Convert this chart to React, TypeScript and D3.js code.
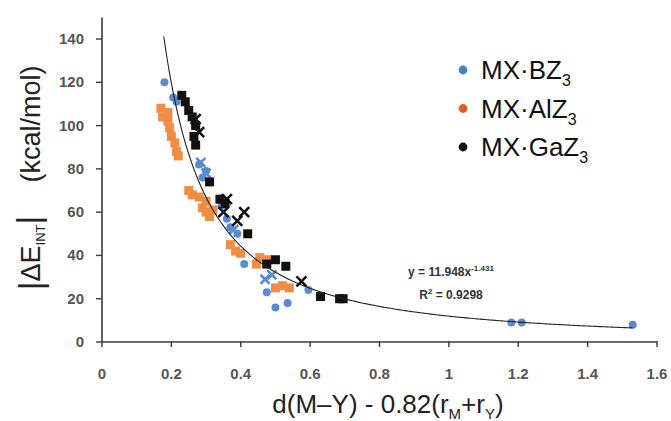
import React from "react";
import * as d3 from "d3";

const xTicks = [0, 0.2, 0.4, 0.6, 0.8, 1, 1.2, 1.4, 1.6];
const yTicks = [0, 20, 40, 60, 80, 100, 120, 140];

const blueCircles: [number, number][] = [
  [0.18, 120], [0.205, 113], [0.215, 111], [0.28, 82], [0.30, 79], [0.29, 76],
  [0.345, 63], [0.36, 57], [0.37, 53], [0.39, 50], [0.41, 36], [0.475, 23],
  [0.50, 16], [0.535, 18], [0.595, 24], [1.18, 9], [1.21, 9], [1.53, 8],
];
const blueCrosses: [number, number][] = [
  [0.285, 83], [0.30, 78], [0.38, 52], [0.47, 29], [0.49, 31],
];
const orangeSquares: [number, number][] = [
  [0.17, 108], [0.175, 104], [0.19, 106], [0.19, 102], [0.195, 99], [0.20, 95],
  [0.21, 92], [0.215, 88], [0.22, 86], [0.25, 70], [0.26, 68], [0.28, 67],
  [0.29, 62], [0.30, 60], [0.31, 58], [0.32, 61], [0.30, 65], [0.37, 45],
  [0.385, 42], [0.40, 41], [0.445, 36], [0.455, 39], [0.475, 38], [0.50, 25],
  [0.52, 26], [0.54, 25],
];
const blackSquares: [number, number][] = [
  [0.23, 114], [0.24, 111], [0.25, 107], [0.26, 104], [0.27, 100], [0.265, 95],
  [0.27, 91], [0.31, 74], [0.34, 66], [0.355, 64], [0.42, 50], [0.475, 36],
  [0.50, 38], [0.53, 35], [0.63, 21], [0.685, 20], [0.695, 20],
];
const blackCrosses: [number, number][] = [
  [0.27, 103], [0.28, 97], [0.35, 60], [0.36, 66], [0.39, 56], [0.41, 60], [0.575, 28],
];

const fitA = 11.948;
const fitB = -1.431;
const fitRange = [0.178, 1.53];

const legendItems = [
  { label: "MX·BZ", color: "#4a7fc4" },
  { label: "MX·AlZ", color: "#d9631e" },
  { label: "MX·GaZ", color: "#111111" },
];

const BLUE = "#5a8ad0";
const ORANGE = "#ef8d45";
const BLACK = "#111111";

export default function App() {
  const x = d3.scaleLinear().domain([0, 1.6]).range([102, 657]);
  const y = d3.scaleLinear().domain([0, 150]).range([342, 17.4]);

  const fitPts = d3.range(0, 201).map((i) => {
    const xv = fitRange[0] + ((fitRange[1] - fitRange[0]) * i) / 200;
    return [xv, fitA * Math.pow(xv, fitB)] as [number, number];
  });
  const line = d3
    .line<[number, number]>()
    .x((d) => x(d[0]))
    .y((d) => y(d[1]))
    .curve(d3.curveMonotoneX);

  const tickFont = { fontFamily: "'Liberation Sans', Arial, sans-serif", fontWeight: 700, fontSize: 15, fill: "#555" };
  const titleFont = "'Liberation Sans', Arial, sans-serif";

  const cross = (cx: number, cy: number, s: number) =>
    `M${cx - s},${cy - s}L${cx + s},${cy + s}M${cx - s},${cy + s}L${cx + s},${cy - s}`;

  return (
    <svg width={671} height={421} style={{ display: "block", background: "#fff" }}>
      <style>{`body{margin:0}`}</style>
      <line x1={x(0)} x2={x(1.6)} y1={y(0)} y2={y(0)} stroke="#3a3a3a" strokeWidth={1.6} />
      <line x1={x(0)} x2={x(0)} y1={y(0)} y2={y(150)} stroke="#3a3a3a" strokeWidth={1.6} />
      {xTicks.map((t) => (
        <g key={"xt" + t}>
          <line x1={x(t)} x2={x(t)} y1={y(0) - 1} y2={y(0) + 5} stroke="#3a3a3a" strokeWidth={1.4} />
          <text x={x(t)} y={379} textAnchor="middle" {...tickFont}>
            {String(t)}
          </text>
        </g>
      ))}
      {yTicks.map((t) => (
        <g key={"yt" + t}>
          <line x1={x(0) - 6} x2={x(0)} y1={y(t)} y2={y(t)} stroke="#3a3a3a" strokeWidth={1.4} />
          <text x={84} y={y(t) + 5} textAnchor="end" {...tickFont}>
            {String(t)}
          </text>
        </g>
      ))}

      {orangeSquares.map((d, i) => (
        <rect key={"o" + i} x={x(d[0]) - 4.5} y={y(d[1]) - 4.5} width={9} height={9} fill={ORANGE} />
      ))}
      {blueCircles.map((d, i) => (
        <circle key={"b" + i} cx={x(d[0])} cy={y(d[1])} r={4} fill={BLUE} />
      ))}
      {blueCrosses.map((d, i) => (
        <path key={"bx" + i} d={cross(x(d[0]), y(d[1]), 4.5)} stroke={BLUE} strokeWidth={2.6} />
      ))}
      {blackSquares.map((d, i) => (
        <rect key={"k" + i} x={x(d[0]) - 4.5} y={y(d[1]) - 4.5} width={9} height={9} fill={BLACK} />
      ))}
      {blackCrosses.map((d, i) => (
        <path key={"kx" + i} d={cross(x(d[0]), y(d[1]), 5)} stroke={BLACK} strokeWidth={2.6} />
      ))}

      <path d={line(fitPts) || ""} fill="none" stroke="#222" strokeWidth={1.1} />

      <text x={451} y={276} textAnchor="middle" fontFamily={titleFont} fontWeight={700} fontSize={12} fill="#333">
        y = 11.948x
        <tspan dy={-5} fontSize={8}>-1.431</tspan>
      </text>
      <text x={451} y={299} textAnchor="middle" fontFamily={titleFont} fontWeight={700} fontSize={12} fill="#333">
        R<tspan dy={-5} fontSize={8}>2</tspan>
        <tspan dy={5}> = 0.9298</tspan>
      </text>

      {legendItems.map((it, i) => (
        <g key={"lg" + i}>
          <circle cx={463} cy={70 + i * 38.5} r={4.4} fill={it.color} />
          <text x={481} y={79 + i * 38.5} fontFamily={titleFont} fontSize={26} fill="#111">
            {it.label}
            <tspan dy={7} fontSize={16}>3</tspan>
          </text>
        </g>
      ))}

      <text x={388} y={413} textAnchor="middle" fontFamily={titleFont} fontSize={26} fill="#222">
        d(M–Y) - 0.82(r<tspan dy={6} fontSize={15}>M</tspan>
        <tspan dy={-6}>+r</tspan>
        <tspan dy={6} fontSize={15}>Y</tspan>
        <tspan dy={-6}>)</tspan>
      </text>

      <g transform="translate(40,124) rotate(-90)">
        <text x={0} y={0} textAnchor="middle" fontFamily={titleFont} fontSize={27} fill="#222">
          (kcal/mol)
        </text>
      </g>
      <g transform="translate(40,253) rotate(-90)">
        <text x={0} y={0} textAnchor="middle" fontFamily={titleFont} fontSize={27} fill="#222">
          <tspan fontSize={34} dy={2}>|</tspan>
          <tspan dy={-2}>ΔE</tspan>
          <tspan dy={5} fontSize={13}>INT</tspan>
          <tspan dy={-5} fontSize={34}>|</tspan>
        </text>
      </g>
    </svg>
  );
}
